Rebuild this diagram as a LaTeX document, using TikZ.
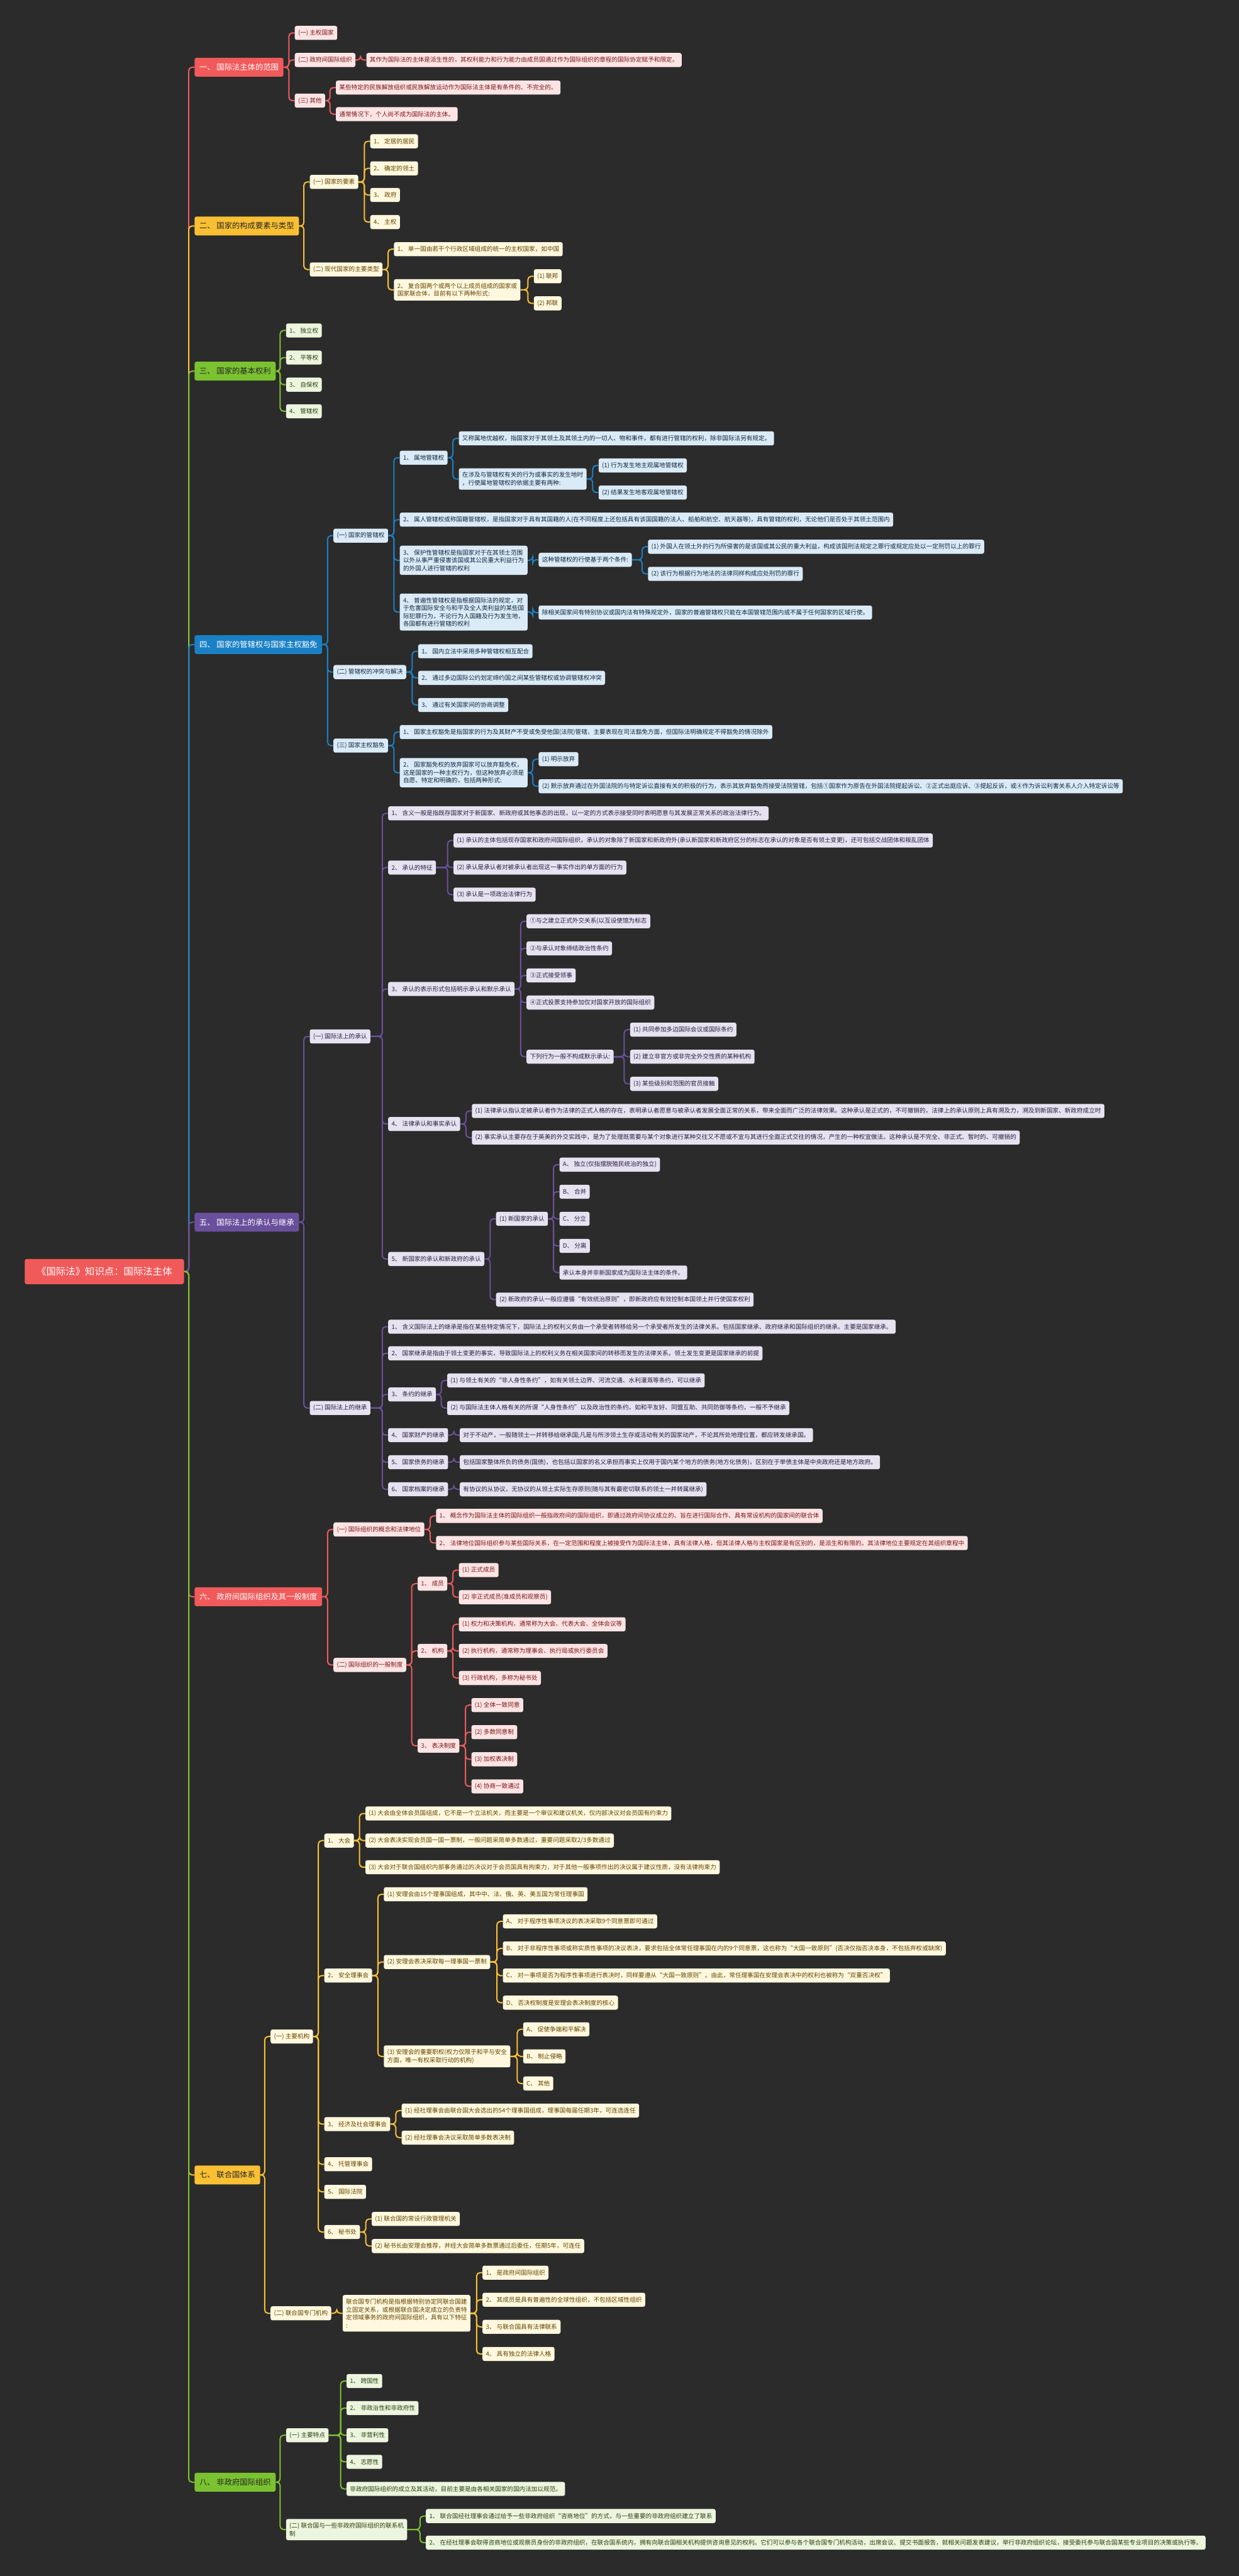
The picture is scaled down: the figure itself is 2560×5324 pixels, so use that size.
\documentclass[tikz,border=0pt]{standalone}
\usepackage{fontspec}
\newfontfamily\cjk{Noto Sans CJK SC}
\usetikzlibrary{calc}
\pgfdeclarelayer{canvas}
\pgfdeclarelayer{wires}
\pgfsetlayers{canvas,wires,main}
\definecolor{Canvas}{RGB}{43,43,43}
\definecolor{Red}{RGB}{240,90,90}
\definecolor{SoftRed}{RGB}{253,228,228}
\definecolor{InkRed}{RGB}{122,22,22}
\definecolor{Amber}{RGB}{250,192,52}
\definecolor{SoftAmber}{RGB}{255,248,222}
\definecolor{InkAmber}{RGB}{98,68,0}
\definecolor{Green}{RGB}{122,194,48}
\definecolor{SoftGreen}{RGB}{236,246,222}
\definecolor{InkGreen}{RGB}{42,62,18}
\definecolor{Blue}{RGB}{26,128,198}
\definecolor{SoftBlue}{RGB}{218,234,246}
\definecolor{InkBlue}{RGB}{20,40,62}
\definecolor{Purple}{RGB}{106,80,156}
\definecolor{SoftPurple}{RGB}{230,226,240}
\definecolor{InkPurple}{RGB}{40,30,62}
\tikzset{
  box/.style={anchor=west,rounded corners=4pt,align=left,inner xsep=7pt,inner ysep=8pt,minimum height=29pt,font=\cjk\fontsize{12.5}{16.3}\selectfont},
  topic/.style={box,inner xsep=10pt,minimum height=39pt,font=\cjk\fontsize{16}{20}\selectfont},
  rootbox/.style={topic,fill=Red,text=white,minimum height=52pt,minimum width=329pt,align=center,font=\cjk\fontsize{20}{24}\selectfont},
  topicR/.style={topic,fill=Red,text=white},
  topicY/.style={topic,fill=Amber,text=black!85},
  topicG/.style={topic,fill=Green,text=black!85},
  topicB/.style={topic,fill=Blue,text=white},
  topicP/.style={topic,fill=Purple,text=white},
  subR/.style={box,fill=SoftRed,text=InkRed},
  subY/.style={box,fill=SoftAmber,text=InkAmber},
  subG/.style={box,fill=SoftGreen,text=InkGreen},
  subB/.style={box,fill=SoftBlue,text=InkBlue},
  subP/.style={box,fill=SoftPurple,text=InkPurple},
  wire/.style={line width=2.6pt,rounded corners=7pt},
  lnR/.style={wire,draw=Red},
  lnY/.style={wire,draw=Amber},
  lnG/.style={wire,draw=Green},
  lnB/.style={wire,draw=Blue},
  lnP/.style={wire,draw=Purple}
}
\begin{document}
\begin{tikzpicture}[x=1pt,y=-1pt]
  \useasboundingbox (0,0) rectangle (2560,5324);
  \begin{pgfonlayer}{canvas}
    \fill[Canvas] (0,0) rectangle (2560,5324);
  \end{pgfonlayer}
  % root
  \node[rootbox] (root) at (51,2628) {《国际法》知识点：国际法主体};
  % 一
  \node[topicR] (b1) at (402,139) {一、 国际法主体的范围};
  \node[subR] (b1a) at (609,68) {(一) 主权国家};
  \node[subR] (b1b) at (609,124) {(二) 政府间国际组织};
  \node[subR] (b1b1) at (757,124) {其作为国际法的主体是派生性的，其权利能力和行为能力由成员国通过作为国际组织的章程的国际协定赋予和限定。};
  \node[subR] (b1c) at (609,208) {(三) 其他};
  \node[subR] (b1c1) at (694,181) {某些特定的民族解放组织或民族解放运动作为国际法主体是有条件的、不完全的。};
  \node[subR] (b1c2) at (694,236) {通常情况下，个人尚不成为国际法的主体。};
  % 二
  \node[topicY] (b2) at (402,467) {二、 国家的构成要素与类型};
  \node[subY] (b2a) at (640,376) {(一) 国家的要素};
  \node[subY] (b2a1) at (765,292) {1、 定居的居民};
  \node[subY] (b2a2) at (765,348) {2、 确定的领土};
  \node[subY] (b2a3) at (765,403) {3、 政府};
  \node[subY] (b2a4) at (765,459) {4、 主权};
  \node[subY] (b2b) at (640,557) {(二) 现代国家的主要类型};
  \node[subY] (b2b1) at (814,515) {1、 单一国由若干个行政区域组成的统一的主权国家，如中国};
  \node[subY] (b2b2) at (814,599) {2、 复合国两个或两个以上成员组成的国家或\\国家联合体，目前有以下两种形式:};
  \node[subY] (b2b2a) at (1103,571) {(1) 联邦};
  \node[subY] (b2b2b) at (1103,627) {(2) 邦联};
  % 三
  \node[topicG] (b3) at (402,767) {三、 国家的基本权利};
  \node[subG] (b3a) at (591,683) {1、 独立权};
  \node[subG] (b3b) at (591,739) {2、 平等权};
  \node[subG] (b3c) at (591,795) {3、 自保权};
  \node[subG] (b3d) at (591,850) {4、 管辖权};
  % 四
  \node[topicB] (b4) at (402,1332) {四、 国家的管辖权与国家主权豁免};
  \node[subB] (b4a) at (689,1107) {(一) 国家的管辖权};
  \node[subB] (b4a1) at (826,946) {1、 属地管辖权};
  \node[subB] (b4a1a) at (948,906) {又称属地优越权，指国家对于其领土及其领土内的一切人、物和事件，都有进行管辖的权利，除非国际法另有规定。};
  \node[subB] (b4a1b) at (948,990) {在涉及与管辖权有关的行为或事实的发生地时\\，行使属地管辖权的依据主要有两种:};
  \node[subB] (b4a1b1) at (1237,962) {(1) 行为发生地主观属地管辖权};
  \node[subB] (b4a1b2) at (1237,1018) {(2) 结果发生地客观属地管辖权};
  \node[subB] (b4a2) at (826,1074) {2、 属人管辖权或称国籍管辖权，是指国家对于具有其国籍的人(在不同程度上还包括具有该国国籍的法人、船舶和航空、航天器等)，具有管辖的权利，无论他们是否处于其领土范围内};
  \node[subB] (b4a3) at (826,1158) {3、 保护性管辖权是指国家对于在其领土范围\\以外从事严重侵害该国或其公民重大利益行为\\的外国人进行管辖的权利};
  \node[subB] (b4a3a) at (1113,1157) {这种管辖权的行使基于两个条件:};
  \node[subB] (b4a3a1) at (1339,1130) {(1) 外国人在领土外的行为所侵害的是该国或其公民的重大利益，构成该国刑法规定之罪行或规定应处以一定刑罚以上的罪行};
  \node[subB] (b4a3a2) at (1339,1186) {(2) 该行为根据行为地法的法律同样构成应处刑罚的罪行};
  \node[subB] (b4a4) at (826,1265) {4、 普遍性管辖权是指根据国际法的规定，对\\于危害国际安全与和平及全人类利益的某些国\\际犯罪行为，不论行为人国籍及行为发生地，\\各国都有进行管辖的权利};
  \node[subB] (b4a4a) at (1113,1266) {除相关国家间有特别协议或国内法有特殊规定外，国家的普遍管辖权只能在本国管辖范围内或不属于任何国家的区域行使。};
  \node[subB] (b4b) at (689,1389) {(二) 管辖权的冲突与解决};
  \node[subB] (b4b1) at (864,1346) {1、 国内立法中采用多种管辖权相互配合};
  \node[subB] (b4b2) at (864,1401) {2、 通过多边国际公约划定缔约国之间某些管辖权或协调管辖权冲突};
  \node[subB] (b4b3) at (864,1457) {3、 通过有关国家间的协商调整};
  \node[subB] (b4c) at (689,1541) {(三) 国家主权豁免};
  \node[subB] (b4c1) at (826,1513) {1、 国家主权豁免是指国家的行为及其财产不受或免受他国(法院)管辖，主要表现在司法豁免方面，但国际法明确规定不得豁免的情况除外};
  \node[subB] (b4c2) at (826,1597) {2、 国家豁免权的放弃国家可以放弃豁免权，\\这是国家的一种主权行为，但这种放弃必须是\\自愿、特定和明确的，包括两种形式:};
  \node[subB] (b4c2a) at (1113,1569) {(1) 明示放弃};
  \node[subB] (b4c2b) at (1113,1625) {(2) 默示放弃通过在外国法院的与特定诉讼直接有关的积极的行为，表示其放弃豁免而接受法院管辖，包括①国家作为原告在外国法院提起诉讼、②正式出庭应诉、③提起反诉，或④作为诉讼利害关系人介入特定诉讼等};
  % 五
  \node[topicP] (b5) at (402,2526) {五、 国际法上的承认与继承};
  \node[subP] (b5a) at (640,2142) {(一) 国际法上的承认};
  \node[subP] (b5a1) at (802,1681) {1、 含义一般是指既存国家对于新国家、新政府或其他事态的出现，以一定的方式表示接受同时表明愿意与其发展正常关系的政治法律行为。};
  \node[subP] (b5a2) at (802,1793) {2、 承认的特征};
  \node[subP] (b5a2a) at (937,1737) {(1) 承认的主体包括现存国家和政府间国际组织，承认的对象除了新国家和新政府外(承认新国家和新政府区分的标志在承认的对象是否有领土变更)，还可包括交战团体和叛乱团体};
  \node[subP] (b5a2b) at (937,1793) {(2) 承认是承认者对被承认者出现这一事实作出的单方面的行为};
  \node[subP] (b5a2c) at (937,1849) {(3) 承认是一项政治法律行为};
  \node[subP] (b5a3) at (802,2044) {3、 承认的表示形式包括明示承认和默示承认};
  \node[subP] (b5a3a) at (1088,1904) {①与之建立正式外交关系(以互设使馆为标志};
  \node[subP] (b5a3b) at (1088,1960) {②与承认对象缔结政治性条约};
  \node[subP] (b5a3c) at (1088,2016) {③正式接受领事};
  \node[subP] (b5a3d) at (1088,2072) {④正式投票支持参加仅对国家开放的国际组织};
  \node[subP] (b5a3e) at (1088,2184) {下列行为一般不构成默示承认:};
  \node[subP] (b5a3e1) at (1302,2128) {(1) 共同参加多边国际会议或国际条约};
  \node[subP] (b5a3e2) at (1302,2184) {(2) 建立非官方或非完全外交性质的某种机构};
  \node[subP] (b5a3e3) at (1302,2240) {(3) 某些级别和范围的官员接触};
  \node[subP] (b5a4) at (802,2323) {4、 法律承认和事实承认};
  \node[subP] (b5a4a) at (975,2296) {(1) 法律承认指认定被承认者作为法律的正式人格的存在，表明承认者愿意与被承认者发展全面正常的关系，带来全面而广泛的法律效果。这种承认是正式的，不可撤销的，法律上的承认原则上具有溯及力，溯及到新国家、新政府成立时};
  \node[subP] (b5a4b) at (975,2351) {(2) 事实承认主要存在于英美的外交实践中，是为了处理既需要与某个对象进行某种交往又不愿或不宜与其进行全面正式交往的情况，产生的一种权宜做法。这种承认是不完全、非正式、暂时的、可撤销的};
  \node[subP] (b5a5) at (802,2602) {5、 新国家的承认和新政府的承认};
  \node[subP] (b5a5a) at (1025,2519) {(1) 新国家的承认};
  \node[subP] (b5a5a1) at (1156,2407) {A、 独立(仅指摆脱殖民统治的独立)};
  \node[subP] (b5a5a2) at (1156,2463) {B、 合并};
  \node[subP] (b5a5a3) at (1156,2519) {C、 分立};
  \node[subP] (b5a5a4) at (1156,2575) {D、 分离};
  \node[subP] (b5a5a5) at (1156,2630) {承认本身并非新国家成为国际法主体的条件。};
  \node[subP] (b5a5b) at (1025,2686) {(2) 新政府的承认一般应遵循“有效统治原则”，即新政府应有效控制本国领土并行使国家权利};
  \node[subP] (b5b) at (640,2910) {(二) 国际法上的继承};
  \node[subP] (b5b1) at (802,2742) {1、 含义国际法上的继承是指在某些特定情况下，国际法上的权利义务由一个承受者转移给另一个承受者所发生的法律关系。包括国家继承、政府继承和国际组织的继承。主要是国家继承。};
  \node[subP] (b5b2) at (802,2797) {2、 国家继承是指由于领土变更的事实，导致国际法上的权利义务在相关国家间的转移而发生的法律关系。领土发生变更是国家继承的前提};
  \node[subP] (b5b3) at (802,2882) {3、 条约的继承};
  \node[subP] (b5b3a) at (924,2853) {(1) 与领土有关的“非人身性条约”，如有关领土边界、河流交通、水利灌溉等条约，可以继承};
  \node[subP] (b5b3b) at (924,2910) {(2) 与国际法主体人格有关的所谓“人身性条约”以及政治性的条约，如和平友好、同盟互助、共同防御等条约，一般不予继承};
  \node[subP] (b5b4) at (802,2966) {4、 国家财产的继承};
  \node[subP] (b5b4a) at (950,2966) {对于不动产，一般随领土一并转移给继承国;凡是与所涉领土生存或活动有关的国家动产，不论其所处地理位置，都应转发继承国。};
  \node[subP] (b5b5) at (802,3022) {5、 国家债务的继承};
  \node[subP] (b5b5a) at (950,3022) {包括国家整体所负的债务(国债)，也包括以国家的名义承担而事实上仅用于国内某个地方的债务(地方化债务)，区别在于举债主体是中央政府还是地方政府。};
  \node[subP] (b5b6) at (802,3078) {6、 国家档案的继承};
  \node[subP] (b5b6a) at (950,3078) {有协议的从协议，无协议的从领土实际生存原则(随与其有最密切联系的领土一并转属继承)};
  % 六
  \node[topicR] (b6) at (402,3300) {六、 政府间国际组织及其一般制度};
  \node[subR] (b6a) at (689,3161) {(一) 国际组织的概念和法律地位};
  \node[subR] (b6a1) at (901,3133) {1、 概念作为国际法主体的国际组织一般指政府间的国际组织，即通过政府间协议成立的、旨在进行国际合作、具有常设机构的国家间的联合体};
  \node[subR] (b6a2) at (901,3189) {2、 法律地位国际组织参与某些国际关系，在一定范围和程度上被接受作为国际法主体，具有法律人格，但其法律人格与主权国家是有区别的，是派生和有限的。其法律地位主要规定在其组织章程中};
  \node[subR] (b6b) at (689,3441) {(二) 国际组织的一般制度};
  \node[subR] (b6b1) at (863,3273) {1、 成员};
  \node[subR] (b6b1a) at (948,3245) {(1) 正式成员};
  \node[subR] (b6b1b) at (948,3301) {(2) 非正式成员(准成员和观察员)};
  \node[subR] (b6b2) at (863,3412) {2、 机构};
  \node[subR] (b6b2a) at (948,3357) {(1) 权力和决策机构，通常称为大会、代表大会、全体会议等};
  \node[subR] (b6b2b) at (948,3412) {(2) 执行机构，通常称为理事会、执行局或执行委员会};
  \node[subR] (b6b2c) at (948,3468) {(3) 行政机构，多称为秘书处};
  \node[subR] (b6b3) at (863,3608) {3、 表决制度};
  \node[subR] (b6b3a) at (974,3524) {(1) 全体一致同意};
  \node[subR] (b6b3b) at (974,3580) {(2) 多数同意制};
  \node[subR] (b6b3c) at (974,3636) {(3) 加权表决制};
  \node[subR] (b6b3d) at (974,3692) {(4) 协商一致通过};
  % 七
  \node[topicY] (b7) at (402,4495) {七、 联合国体系};
  \node[subY] (b7a) at (559,4209) {(一) 主要机构};
  \node[subY] (b7a1) at (670,3804) {1、 大会};
  \node[subY] (b7a1a) at (755,3748) {(1) 大会由全体会员国组成，它不是一个立法机关，而主要是一个审议和建议机关，仅内部决议对会员国有约束力};
  \node[subY] (b7a1b) at (755,3804) {(2) 大会表决实现会员国一国一票制，一般问题采简单多数通过，重要问题采取2/3多数通过};
  \node[subY] (b7a1c) at (755,3859) {(3) 大会对于联合国组织内部事务通过的决议对于会员国具有拘束力，对于其他一般事项作出的决议属于建议性质，没有法律拘束力};
  \node[subY] (b7a2) at (670,4083) {2、 安全理事会};
  \node[subY] (b7a2a) at (793,3915) {(1) 安理会由15个理事国组成，其中中、法、俄、英、美五国为常任理事国};
  \node[subY] (b7a2b) at (793,4055) {(2) 安理会表决采取每一理事国一票制};
  \node[subY] (b7a2b1) at (1039,3971) {A、 对于程序性事项决议的表决采取9个同意票即可通过};
  \node[subY] (b7a2b2) at (1039,4027) {B、 对于非程序性事项或称实质性事项的决议表决，要求包括全体常任理事国在内的9个同意票，这也称为“大国一致原则”(否决仅指否决本身，不包括弃权或缺席)};
  \node[subY] (b7a2b3) at (1039,4083) {C、 对一事项是否为程序性事项进行表决时，同样要遵从“大国一致原则”。由此，常任理事国在安理会表决中的权利也被称为“双重否决权”};
  \node[subY] (b7a2b4) at (1039,4139) {D、 否决权制度是安理会表决制度的核心};
  \node[subY] (b7a2c) at (793,4250) {(3) 安理会的重要职权(权力仅限于和平与安全\\方面，唯一有权采取行动的机构)};
  \node[subY] (b7a2c1) at (1081,4194) {A、 促使争端和平解决};
  \node[subY] (b7a2c2) at (1081,4250) {B、 制止侵略};
  \node[subY] (b7a2c3) at (1081,4306) {C、 其他};
  \node[subY] (b7a3) at (670,4390) {3、 经济及社会理事会};
  \node[subY] (b7a3a) at (830,4362) {(1) 经社理事会由联合国大会选出的54个理事国组成，理事国每届任期3年，可连选连任};
  \node[subY] (b7a3b) at (830,4418) {(2) 经社理事会决议采取简单多数表决制};
  \node[subY] (b7a4) at (670,4473) {4、 托管理事会};
  \node[subY] (b7a5) at (670,4530) {5、 国际法院};
  \node[subY] (b7a6) at (670,4613) {6、 秘书处};
  \node[subY] (b7a6a) at (768,4586) {(1) 联合国的常设行政管理机关};
  \node[subY] (b7a6b) at (768,4642) {(2) 秘书长由安理会推荐，并经大会简单多数票通过后委任，任期5年，可连任};
  \node[subY] (b7b) at (559,4781) {(二) 联合国专门机构};
  \node[subY] (b7b0) at (708,4781) {联合国专门机构是指根据特别协定同联合国建\\立固定关系，或根据联合国决定成立的负责特\\定领域事务的政府间国际组织，具有以下特征\\:};
  \node[subY] (b7b1) at (997,4697) {1、 是政府间国际组织};
  \node[subY] (b7b2) at (997,4753) {2、 其成员是具有普遍性的全球性组织，不包括区域性组织};
  \node[subY] (b7b3) at (997,4809) {3、 与联合国具有法律联系};
  \node[subY] (b7b4) at (997,4865) {4、 具有独立的法律人格};
  % 八
  \node[topicG] (b8) at (402,5130) {八、 非政府国际组织};
  \node[subG] (b8a) at (591,5033) {(一) 主要特点};
  \node[subG] (b8a1) at (716,4921) {1、 跨国性};
  \node[subG] (b8a2) at (716,4977) {2、 非政治性和非政府性};
  \node[subG] (b8a3) at (716,5033) {3、 非营利性};
  \node[subG] (b8a4) at (716,5088) {4、 志愿性};
  \node[subG] (b8a5) at (716,5144) {非政府国际组织的成立及其活动，目前主要是由各相关国家的国内法加以规范。};
  \node[subG] (b8b) at (591,5228) {(二) 联合国与一些非政府国际组织的联系机\\制};
  \node[subG] (b8b1) at (880,5200) {1、 联合国经社理事会通过给予一些非政府组织“咨商地位”的方式，与一些重要的非政府组织建立了联系};
  \node[subG] (b8b2) at (880,5255) {2、 在经社理事会取得咨商地位或观察员身份的非政府组织，在联合国系统内，拥有向联合国相关机构提供咨询意见的权利。它们可以参与各个联合国专门机构活动，出席会议、提交书面报告，就相关问题发表建议，举行非政府组织论坛，接受委托参与联合国某些专业项目的决策或执行等。};
  % connectors
  \begin{pgfonlayer}{wires}
    \foreach \c/\s in {b1/lnR,b2/lnY,b3/lnG,b4/lnB,b5/lnP,b6/lnR,b7/lnY,b8/lnG}
      \draw[\s] (\c.west) -- ++(-12,0) |- (root.east);
    \foreach \p/\c in {b1/b1a,b1/b1b,b1/b1c,b1b/b1b1,b1c/b1c1,b1c/b1c2,
        b6/b6a,b6/b6b,b6a/b6a1,b6a/b6a2,b6b/b6b1,b6b/b6b2,b6b/b6b3,b6b1/b6b1a,b6b1/b6b1b,
        b6b2/b6b2a,b6b2/b6b2b,b6b2/b6b2c,b6b3/b6b3a,b6b3/b6b3b,b6b3/b6b3c,b6b3/b6b3d}
      \draw[lnR] (\c.west) -- ++(-12,0) |- (\p.east);
    \foreach \p/\c in {b2/b2a,b2/b2b,b2a/b2a1,b2a/b2a2,b2a/b2a3,b2a/b2a4,b2b/b2b1,b2b/b2b2,b2b2/b2b2a,b2b2/b2b2b,
        b7/b7a,b7/b7b,b7a/b7a1,b7a/b7a2,b7a/b7a3,b7a/b7a4,b7a/b7a5,b7a/b7a6,b7a1/b7a1a,b7a1/b7a1b,b7a1/b7a1c,
        b7a2/b7a2a,b7a2/b7a2b,b7a2/b7a2c,b7a2b/b7a2b1,b7a2b/b7a2b2,b7a2b/b7a2b3,b7a2b/b7a2b4,
        b7a2c/b7a2c1,b7a2c/b7a2c2,b7a2c/b7a2c3,b7a3/b7a3a,b7a3/b7a3b,b7a6/b7a6a,b7a6/b7a6b,
        b7b/b7b0,b7b0/b7b1,b7b0/b7b2,b7b0/b7b3,b7b0/b7b4}
      \draw[lnY] (\c.west) -- ++(-12,0) |- (\p.east);
    \foreach \p/\c in {b3/b3a,b3/b3b,b3/b3c,b3/b3d,
        b8/b8a,b8/b8b,b8a/b8a1,b8a/b8a2,b8a/b8a3,b8a/b8a4,b8a/b8a5,b8b/b8b1,b8b/b8b2}
      \draw[lnG] (\c.west) -- ++(-12,0) |- (\p.east);
    \foreach \p/\c in {b4/b4a,b4/b4b,b4/b4c,b4a/b4a1,b4a/b4a2,b4a/b4a3,b4a/b4a4,b4a1/b4a1a,b4a1/b4a1b,
        b4a1b/b4a1b1,b4a1b/b4a1b2,b4a3/b4a3a,b4a3a/b4a3a1,b4a3a/b4a3a2,b4a4/b4a4a,
        b4b/b4b1,b4b/b4b2,b4b/b4b3,b4c/b4c1,b4c/b4c2,b4c2/b4c2a,b4c2/b4c2b}
      \draw[lnB] (\c.west) -- ++(-12,0) |- (\p.east);
    \foreach \p/\c in {b5/b5a,b5/b5b,b5a/b5a1,b5a/b5a2,b5a/b5a3,b5a/b5a4,b5a/b5a5,
        b5a2/b5a2a,b5a2/b5a2b,b5a2/b5a2c,b5a3/b5a3a,b5a3/b5a3b,b5a3/b5a3c,b5a3/b5a3d,b5a3/b5a3e,
        b5a3e/b5a3e1,b5a3e/b5a3e2,b5a3e/b5a3e3,b5a4/b5a4a,b5a4/b5a4b,b5a5/b5a5a,b5a5/b5a5b,
        b5a5a/b5a5a1,b5a5a/b5a5a2,b5a5a/b5a5a3,b5a5a/b5a5a4,b5a5a/b5a5a5,
        b5b/b5b1,b5b/b5b2,b5b/b5b3,b5b/b5b4,b5b/b5b5,b5b/b5b6,b5b3/b5b3a,b5b3/b5b3b,
        b5b4/b5b4a,b5b5/b5b5a,b5b6/b5b6a}
      \draw[lnP] (\c.west) -- ++(-12,0) |- (\p.east);
  \end{pgfonlayer}
\end{tikzpicture}
\end{document}
